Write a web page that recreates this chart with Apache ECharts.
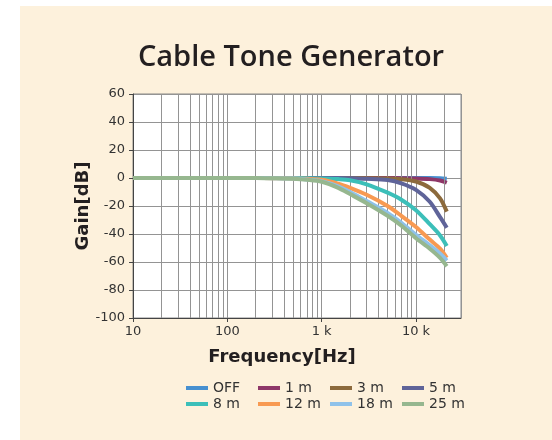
<!DOCTYPE html>
<html><head><meta charset="utf-8">
<script src="https://cdn.jsdelivr.net/npm/echarts@6/dist/echarts.min.js"></script>
<style>html,body{margin:0;padding:0;background:#fff}#c{width:552px;height:440px}</style>
</head><body><div id="c"></div>
<script>
const freqs = [10,20,50,100,200,300,500,700,1000,1500,2000,3000,5000,7000,10000,14000,18000,21200];
const sOFF = [0,0,0,0,0,0,0,0,0,0,0,0,0,0,0,0,-0.2,-0.5];
const s1m  = [0,0,0,0,0,0,0,0,0,0,0,0,0,-0.1,-0.3,-0.8,-1.8,-3.4];
const s3m  = [0,0,0,0,0,0,0,0,0,0,0,-0.1,-0.3,-0.8,-2.5,-7,-14.5,-24];
const s5m  = [0,0,0,0,0,0,0,0,0,0,-0.2,-0.6,-1.5,-3.8,-8.5,-17,-28,-35.5];
const s8m  = [0,0,0,0,0,0,0,-0.1,-0.3,-0.8,-1.6,-4.5,-10.5,-15.5,-23,-33,-41,-48.5];
const s12m = [0,0,0,0,0,-0.1,-0.3,-0.6,-1.2,-4,-7,-12,-20,-27,-35,-44,-50.5,-57];
const s18m = [0,0,0,0,0,-0.1,-0.4,-1,-2.2,-6,-10,-16.5,-25,-32,-40.5,-48,-54,-59];
const s25m = [0,0,0,0,0,-0.2,-0.6,-1.3,-2.7,-7,-11.5,-18,-27,-34,-43,-50.5,-57,-63];
const seriesNames = ['OFF','1 m','3 m','5 m','8 m','12 m','18 m','25 m'];
const seriesData = [sOFF,s1m,s3m,s5m,s8m,s12m,s18m,s25m];
const colors = ['#4790d0','#8e3768','#8c6a3c','#5f6499','#3cbfb9','#f89a52','#8fc2ea','#96b78f'];
const xTickLabels = {10:'10',100:'100',1000:'1 k',10000:'10 k'};
const minorGridFreqs = [20,30,40,50,60,70,80,90,200,300,400,500,600,700,800,900,2000,3000,4000,5000,6000,7000,8000,9000,20000];
const yMin = -100, yMax = 60, yStep = 20;
const xMin = 10, xMax = 30000;

const font = 'DejaVu Sans';
const chart = echarts.init(document.getElementById('c'));
const series = seriesNames.map((n,i)=>({
  name:n, type:'line', data: freqs.map((f,j)=>[f, seriesData[i][j]]),
  showSymbol:false, smooth:0.3, lineStyle:{width:4, color:colors[i]}, itemStyle:{color:colors[i]}, z:3+i
}));
series.unshift({
  type:'line', data:[], silent:true, z:1,
  markLine:{symbol:'none', silent:true, animation:false, label:{show:false},
    lineStyle:{color:'#949494', width:1, type:'solid'},
    data: minorGridFreqs.map(f=>({xAxis:f}))}
});
chart.setOption({
  animation:false,
  backgroundColor:'#ffffff',
  graphic:[{type:'rect', shape:{x:20,y:6,width:540,height:440}, style:{fill:'#fdf1dc'}, z:-10, silent:true}],
  title:{text:'Cable Tone Generator', left:286, textAlign:'center', top:38,
    textStyle:{fontFamily:'Open Sans', fontSize:29, fontWeight:600, color:'#231f20'}},
  color:colors,
  legend:{data:seriesNames, left:181, top:376, width:290, itemWidth:22, itemHeight:4, itemGap:2,
    icon:'rect', textStyle:{fontFamily:font, fontSize:14, color:'#333', width:43, lineHeight:12}},
  grid:{left:133, top:94, right:91, bottom:122, show:true, backgroundColor:'#ffffff', borderColor:'#888', borderWidth:1},
  xAxis:{type:'log', min:xMin, max:xMax, logBase:10,
    name:'Frequency[Hz]', nameLocation:'middle', nameGap:30, nameMoveOverlap:false,
    nameTextStyle:{fontFamily:font, fontSize:18, fontWeight:'bold', color:'#231f20', padding:[0,30,0,0]},
    axisLine:{onZero:false, lineStyle:{color:'#444'}}, axisTick:{show:true, length:4, lineStyle:{color:'#444'}},
    axisLabel:{fontFamily:font, fontSize:13, color:'#333', margin:7, showMaxLabel:false,
      formatter:v=>xTickLabels[Math.round(v)]||''},
    splitLine:{show:true, lineStyle:{color:'#949494', width:1}}},
  yAxis:{type:'value', min:yMin, max:yMax, interval:yStep,
    name:'Gain[dB]', nameLocation:'middle', nameGap:41, nameMoveOverlap:false,
    nameTextStyle:{fontFamily:font, fontSize:18, fontWeight:'bold', color:'#231f20'},
    axisLine:{show:true, onZero:false, lineStyle:{color:'#444'}}, axisTick:{show:true, length:4, lineStyle:{color:'#444'}},
    axisLabel:{fontFamily:font, fontSize:13, color:'#333', margin:8},
    splitLine:{show:true, lineStyle:{color:'#949494', width:1}}},
  series:series
});
</script></body></html>
